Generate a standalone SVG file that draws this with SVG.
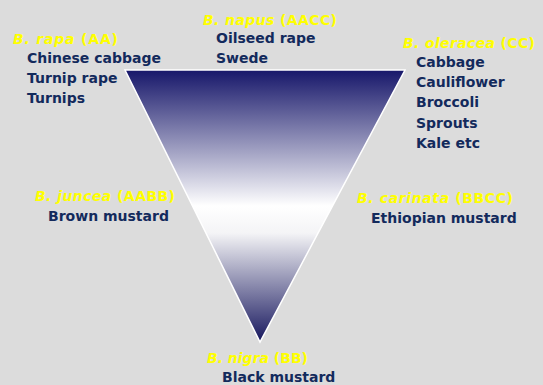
<svg xmlns="http://www.w3.org/2000/svg" width="543" height="385" viewBox="0 0 543 385">
<defs>
<linearGradient id="g" x1="0" y1="70" x2="0" y2="342" gradientUnits="userSpaceOnUse">
<stop offset="0" stop-color="#17176a"/>
<stop offset="0.5" stop-color="#ffffff"/>
<stop offset="0.6" stop-color="#f4f4f6"/>
<stop offset="1" stop-color="#17175e"/>
</linearGradient>
</defs>
<style>
text{font-family:"DejaVu Sans","Liberation Sans",sans-serif;font-weight:bold;font-size:14px}
.n{fill:#132a5c}
.y{fill:#ffff00}
.i{font-style:italic}
</style>
<rect width="543" height="385" fill="#dcdcdc"/>
<g id="triangle">
<polygon points="125,70 405,70 260,342" fill="url(#g)" stroke="#ffffff" stroke-width="1.5"/>
</g>
<g id="rapa">
<text class="y" x="13" y="44" textLength="105" lengthAdjust="spacing"><tspan class="i">B. rapa</tspan> (AA)</text>
<text class="n" x="27" y="63">Chinese cabbage</text>
<text class="n" x="27" y="83">Turnip rape</text>
<text class="n" x="27" y="103">Turnips</text>
</g>
<g id="napus">
<text class="y" x="203" y="25" textLength="134" lengthAdjust="spacing"><tspan class="i">B. napus</tspan> (AACC)</text>
<text class="n" x="216" y="43">Oilseed rape</text>
<text class="n" x="216" y="63">Swede</text>
</g>
<g id="oleracea">
<text class="y" x="403" y="48" textLength="132" lengthAdjust="spacing"><tspan class="i">B. oleracea</tspan> (CC)</text>
<text class="n" x="416" y="67">Cabbage</text>
<text class="n" x="416" y="87">Cauliflower</text>
<text class="n" x="416" y="107">Broccoli</text>
<text class="n" x="416" y="128">Sprouts</text>
<text class="n" x="416" y="148">Kale etc</text>
</g>
<g id="juncea">
<text class="y" x="35" y="201" textLength="140" lengthAdjust="spacing"><tspan class="i">B. juncea</tspan> (AABB)</text>
<text class="n" x="48" y="221">Brown mustard</text>
</g>
<g id="carinata">
<text class="y" x="357" y="203" textLength="156" lengthAdjust="spacing"><tspan class="i">B. carinata</tspan> (BBCC)</text>
<text class="n" x="371" y="223">Ethiopian mustard</text>
</g>
<g id="nigra">
<text class="y" x="207" y="363" textLength="101" lengthAdjust="spacing"><tspan class="i">B. nigra</tspan> (BB)</text>
<text class="n" x="222" y="382">Black mustard</text>
</g>
<g id="connectors"/>
</svg>
